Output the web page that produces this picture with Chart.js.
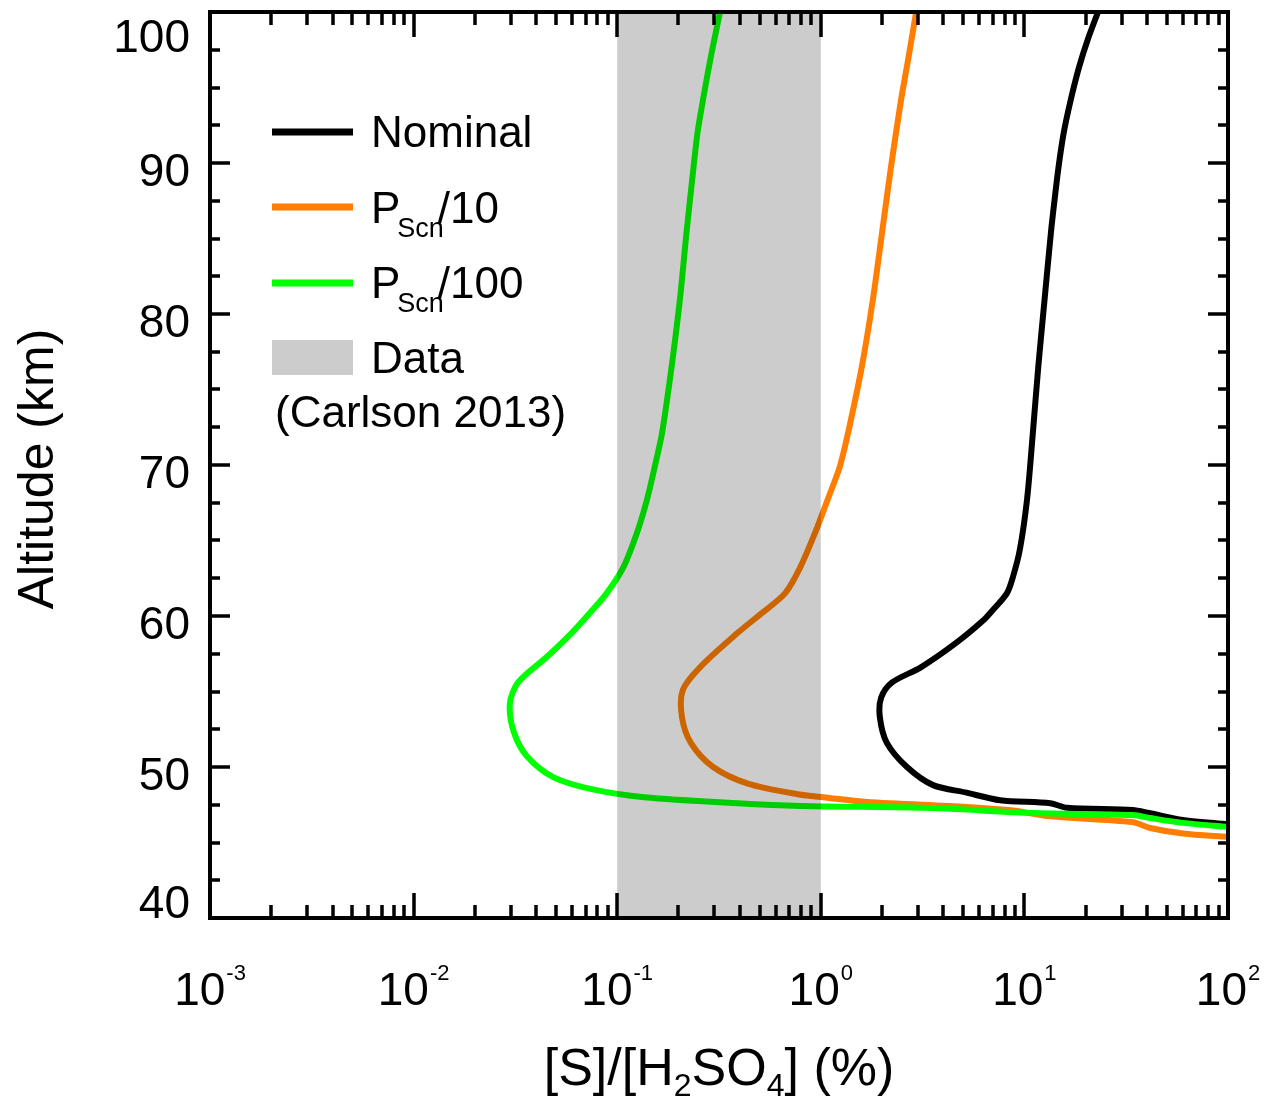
<!DOCTYPE html>
<html>
<head>
<meta charset="utf-8">
<script src="https://cdn.jsdelivr.net/npm/chart.js@4.4.1/dist/chart.umd.min.js"></script>
<style>
html,body{margin:0;padding:0;background:#fff;}
#wrap{width:1275px;height:1099px;}
</style>
</head>
<body>
<div id="wrap"><canvas id="chart" width="1275" height="1099"></canvas></div>
<script>
// Altitude (km) and [S]/[H2SO4] (%) for each run
const altNominal=[100,98.2,96.4,94.2,92,89.7,87.5,85.4,80.9,76.5,72.1,67.7,64.4,62.6,61.5,60.4,59.7,58.2,56.6,55.6,54.6,53.3,51.6,50,48.8,48.3,47.8,47.6,47.3,47.15,46.95,46.5,46.2];
const ratioNominal=[23.0,20.5,18.6,16.9,15.6,14.7,14.05,13.5,12.55,11.7,11.0,10.3,9.5,8.79,8.2,7.0,6.27,4.6,3.1,2.24,1.98,1.95,2.11,2.65,3.56,5.2,7.6,13.4,16.2,34,41,60,100];

const altScn10=[100,96.4,94.2,89.7,85.4,80.9,76.5,72.1,69.9,67.7,65.5,63.2,61.5,60.2,58.9,56.6,55.1,53.3,51.6,50,48.9,48.2,47.95,47.68,47.35,47.1,46.75,46.35,45.96,45.6,45.36];
const ratioScn10=[2.94,2.65,2.48,2.21,2.0,1.8,1.59,1.36,1.24,1.08,0.937,0.791,0.667,0.514,0.392,0.255,0.21,0.208,0.23,0.296,0.438,0.77,1.1,1.69,5.2,9.0,13,34,41.4,60,100];

const altScn100=[100,97.2,94.2,92,89.7,85.4,80.9,76.5,72.1,69.9,67.7,65.5,63.2,61.5,60.2,58.9,57.3,55.6,54.2,52.3,50.7,49.3,48.5,48.0,47.6,47.42,47.28,46.95,46.82,46.62,46.3,46.03];
const ratioScn100=[0.32,0.29,0.264,0.248,0.237,0.219,0.203,0.185,0.166,0.153,0.14,0.125,0.107,0.0887,0.0734,0.060,0.0452,0.0326,0.0297,0.0311,0.0361,0.049,0.0769,0.136,0.39,0.8,3.56,11,34,41.4,60,100];

// measured range (Carlson 2013), shaded over every altitude
const dataBand=[0.1,1];

// axis ticks
const xMajor=[1e-3,1e-2,1e-1,1e0,1e1,1e2];
const xExp=['-3','-2','-1','0','1','2'];
const yMajor=[40,50,60,70,80,90,100];
const yMinorStep=2.5;

// legend text: main part, subscript, tail
const legendMain=['Nominal','P','P'];
const legendSub=['','Scn','Scn'];
const legendTail=['','/10','/100'];
const colors=['#000000','#ff7d00','#00ff00'];

const FONT='"Liberation Sans", Arial, Helvetica, sans-serif';
const pts=(alt,val)=>alt.map((a,i)=>({x:val[i],y:a}));

const runs=[[altNominal,ratioNominal],[altScn10,ratioScn10],[altScn100,ratioScn100]];
const datasets=runs.map((r,i)=>({
  label:legendMain[i]+legendSub[i]+legendTail[i],
  data:pts(r[0],r[1]),
  borderColor:colors[i],
  borderWidth:6,
  pointRadius:0,
  showLine:true,
  tension:0.3,
  order:2-i   // green on top, then orange, then black
}));

// text with an optional sub/superscript run: parts = [[text,size,dy,gap],...]
function richWidth(ctx,parts){
  let w=0;
  parts.forEach(p=>{ctx.font=p[1]+'px '+FONT;w+=ctx.measureText(p[0]).width+(p[3]||0);});
  return w;
}
function richText(ctx,parts,x,y){
  parts.forEach(p=>{ctx.font=p[1]+'px '+FONT;ctx.fillText(p[0],x,y+p[2]);x+=ctx.measureText(p[0]).width+(p[3]||0);});
}

const frame={
  id:'frame',
  afterDatasetsDraw(chart){
    const {ctx,chartArea:a,scales:{x}}=chart;
    // shaded data range lies over the curves
    const x0=x.getPixelForValue(dataBand[0]),x1=x.getPixelForValue(dataBand[1]);
    ctx.save();
    ctx.fillStyle='rgba(0,0,0,0.2)';
    ctx.fillRect(x0,a.top,x1-x0,a.bottom-a.top);
    ctx.restore();
  },
  afterDraw(chart){
    const {ctx,chartArea:a,scales:{x,y}}=chart;
    ctx.save();
    ctx.strokeStyle='#000';ctx.fillStyle='#000';

    // inward ticks on all four sides
    ctx.lineWidth=3.5;
    ctx.beginPath();
    const xt=[];
    xMajor.forEach((d,i)=>{
      xt.push([d,25]);
      if(i<xMajor.length-1) for(let k=2;k<=9;k++) xt.push([d*k,13]);
    });
    xt.forEach(([v,len])=>{
      const px=Math.round(x.getPixelForValue(v));
      ctx.moveTo(px,a.bottom);ctx.lineTo(px,a.bottom-len);
      ctx.moveTo(px,a.top);ctx.lineTo(px,a.top+len);
    });
    for(let v=y.min;v<=y.max+1e-6;v+=yMinorStep){
      const len=yMajor.includes(v)?20:10;
      const py=Math.round(y.getPixelForValue(v));
      ctx.moveTo(a.left,py);ctx.lineTo(a.left+len,py);
      ctx.moveTo(a.right,py);ctx.lineTo(a.right-len,py);
    }
    ctx.stroke();

    ctx.lineWidth=4;
    ctx.strokeRect(a.left,a.top,a.right-a.left,a.bottom-a.top);

    // y tick labels, kept within the plot's height
    ctx.textAlign='right';ctx.textBaseline='alphabetic';
    ctx.font='46px '+FONT;
    yMajor.forEach(v=>{
      const py=y.getPixelForValue(v);
      let base=Math.min(py+23,a.bottom);
      base=Math.max(base,a.top+40);
      ctx.fillText(String(v),a.left-20,base);
    });

    // x tick labels as powers of ten
    ctx.textAlign='left';
    xMajor.forEach((v,i)=>{
      const parts=[['10',46,0,1],[xExp[i],22,-25]];
      const w=richWidth(ctx,parts);
      richText(ctx,parts,x.getPixelForValue(v)-w/2,a.bottom+87);
    });

    // x title
    const xt2=[['[S]/[H',52,0],['2',32,11],['SO',52,0],['4',32,11],['] (%)',52,0]];
    const tw=richWidth(ctx,xt2);
    richText(ctx,xt2,(a.left+a.right)/2-tw/2,a.bottom+167);

    // y title
    ctx.save();
    ctx.translate(53,(a.top+a.bottom)/2+4);
    ctx.rotate(-Math.PI/2);
    ctx.textAlign='center';
    ctx.font='50px '+FONT;
    ctx.fillText('Altitude (km)',0,0);
    ctx.restore();

    // legend
    const lx0=a.left+62,lx1=a.left+143,tx=a.left+161;
    const lineY=[a.top+120,a.top+195,a.top+271];
    const textY=[a.top+135,a.top+211,a.top+286];
    chart.data.datasets.forEach((ds,i)=>{
      ctx.strokeStyle=ds.borderColor;ctx.lineWidth=7;
      ctx.beginPath();ctx.moveTo(lx0,lineY[i]);ctx.lineTo(lx1,lineY[i]);ctx.stroke();
      const parts=[[legendMain[i],44,0,-3]];
      if(legendSub[i]) parts.push([legendSub[i],27,14,-6],[legendTail[i],44,0]);
      richText(ctx,parts,tx,textY[i]);
    });
    ctx.fillStyle='rgba(0,0,0,0.2)';
    ctx.fillRect(lx0,a.top+328,lx1-lx0,35);
    ctx.fillStyle='#000';
    ctx.font='44px '+FONT;
    ctx.fillText('Data',tx,a.top+361);
    ctx.fillText('(Carlson 2013)',a.left+65,a.top+415);
    ctx.restore();
  }
};

new Chart(document.getElementById('chart'),{
  type:'scatter',
  data:{datasets},
  options:{
    responsive:false,
    animation:false,
    layout:{padding:{left:210,top:12,right:47,bottom:181}},
    plugins:{legend:{display:false},tooltip:{enabled:false}},
    scales:{
      x:{type:'logarithmic',min:1e-3,max:1e2,display:false},
      y:{type:'linear',min:40,max:100,display:false}
    }
  },
  plugins:[frame]
});
</script>
</body>
</html>
